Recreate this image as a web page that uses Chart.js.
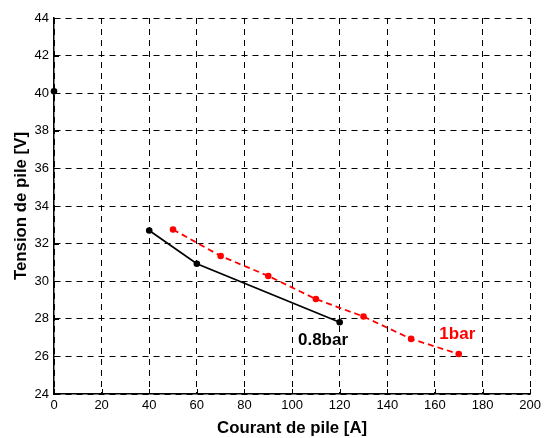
<!DOCTYPE html>
<html lang="fr">
<head>
    <meta charset="UTF-8">
    <title>Tension de pile vs Courant de pile</title>
    <style>
        body {
            margin: 0;
            padding: 0;
            background-color: #fff;
        }
        .chart-container {
            width: 545px;
            height: 438px;
        }
    </style>
    <script src="https://cdn.jsdelivr.net/npm/chart.js"></script>
</head>
<body>

<div class="chart-container">
    <canvas id="pileChart"></canvas>
</div>

<script>
    // Data
    const current08 = [40, 60, 120];          // 0.8 bar, current [A]
    const voltage08 = [32.7, 30.93, 27.82];   // 0.8 bar, voltage [V]
    const openCurrent = [0];                  // open circuit point
    const openVoltage = [40.1];
    const current1 = [50, 70, 90, 110, 130, 150, 170];                      // 1 bar
    const voltage1 = [32.75, 31.34, 30.28, 29.05, 28.12, 26.93, 26.13];
    const xTicks = [0, 20, 40, 60, 80, 100, 120, 140, 160, 180, 200];
    const yTicks = [24, 26, 28, 30, 32, 34, 36, 38, 40, 42, 44];

    // Curve labels (in data coordinates)
    const curveLabels = [
        { text: '0.8bar', x: 113, y: 26.83, color: '#000' },
        { text: '1bar', x: 169.4, y: 27.2, color: '#ff0000' }
    ];

    const toPoints = (xs, ys) => xs.map((x, i) => ({ x: x, y: ys[i] }));

    // inward ticks (MATLAB style) and curve labels
    const extrasPlugin = {
        id: 'extras',
        afterDatasetsDraw(chart) {
            const ctx = chart.ctx;
            const xs = chart.scales.x, ys = chart.scales.y;
            const area = chart.chartArea;
            ctx.save();
            ctx.strokeStyle = '#000';
            ctx.lineWidth = 1;
            ctx.beginPath();
            xTicks.forEach(v => {
                const px = Math.round(xs.getPixelForValue(v)) + 0.5;
                ctx.moveTo(px, area.bottom);
                ctx.lineTo(px, area.bottom - 5);
            });
            yTicks.forEach(v => {
                const py = Math.round(ys.getPixelForValue(v)) + 0.5;
                ctx.moveTo(area.left, py);
                ctx.lineTo(area.left + 5, py);
            });
            ctx.stroke();

            ctx.font = 'bold 17px "Liberation Sans", Arial, sans-serif';
            ctx.textAlign = 'center';
            ctx.textBaseline = 'middle';
            curveLabels.forEach(l => {
                ctx.fillStyle = l.color;
                ctx.fillText(l.text, xs.getPixelForValue(l.x), ys.getPixelForValue(l.y));
            });
            ctx.restore();
        }
    };

    const ctx = document.getElementById('pileChart').getContext('2d');
    const pileChart = new Chart(ctx, {
        type: 'scatter',
        data: {
            datasets: [
                {
                    label: '0.8bar',
                    data: toPoints(current08, voltage08),
                    showLine: true,
                    borderColor: '#000',
                    backgroundColor: '#000',
                    borderWidth: 1.7,
                    pointRadius: 3.3,
                    pointBorderWidth: 0
                },
                {
                    label: '0.8bar (open circuit)',
                    data: toPoints(openCurrent, openVoltage),
                    showLine: false,
                    borderColor: '#000',
                    backgroundColor: '#000',
                    pointRadius: 3.3,
                    pointBorderWidth: 0,
                    clip: false
                },
                {
                    label: '1bar',
                    data: toPoints(current1, voltage1),
                    showLine: true,
                    borderColor: '#ff0000',
                    backgroundColor: '#ff0000',
                    borderWidth: 1.8,
                    borderDash: [6, 4],
                    pointRadius: 3.3,
                    pointBorderWidth: 0
                }
            ]
        },
        options: {
            responsive: true,
            maintainAspectRatio: false,
            animation: false,
            layout: { padding: { top: 18, right: 14, left: 0, bottom: 0 } },
            plugins: {
                legend: { display: false },
                tooltip: { enabled: false }
            },
            scales: {
                x: {
                    type: 'linear',
                    min: 0,
                    max: 200,
                    afterFit: s => { s.height = 44; },
                    afterBuildTicks: s => { s.ticks = xTicks.map(v => ({ value: v })); },
                    ticks: {
                        color: '#000',
                        padding: 4,
                        font: { family: '"Liberation Sans", Arial, sans-serif', size: 13 }
                    },
                    grid: { color: '#000', lineWidth: 1, drawTicks: false },
                    border: { color: '#000', width: 1.5, dash: [6, 5] },
                    title: {
                        display: true,
                        text: 'Courant de pile [A]',
                        color: '#000',
                        padding: { top: 3, bottom: 0 },
                        font: { family: '"Liberation Sans", Arial, sans-serif', size: 16.8, weight: 'bold' }
                    }
                },
                y: {
                    type: 'linear',
                    min: 24,
                    max: 44,
                    afterFit: s => { s.width = 54; },
                    afterBuildTicks: s => { s.ticks = yTicks.map(v => ({ value: v })); },
                    ticks: {
                        color: '#000',
                        padding: 5,
                        font: { family: '"Liberation Sans", Arial, sans-serif', size: 13 }
                    },
                    grid: { color: '#000', lineWidth: 1, drawTicks: false },
                    border: { color: '#000', width: 1.5, dash: [6, 5] },
                    title: {
                        display: true,
                        text: 'Tension de pile [V]',
                        color: '#000',
                        padding: { top: 11, bottom: 0 },
                        font: { family: '"Liberation Sans", Arial, sans-serif', size: 16.8, weight: 'bold' }
                    }
                }
            }
        },
        plugins: [extrasPlugin]
    });
</script>

</body>
</html>
